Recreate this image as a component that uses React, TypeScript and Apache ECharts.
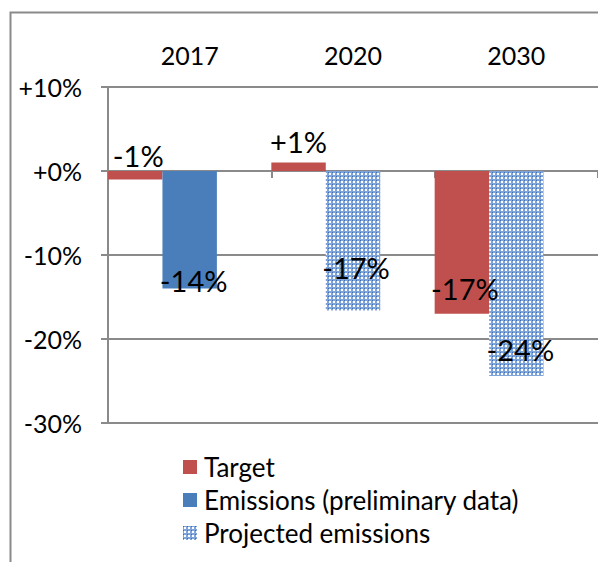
import React, { useEffect, useRef } from "react";
import * as echarts from "echarts";

const categories = ["2017", "2020", "2030"];
const targetValues = [-1, 1, -17];
const emissionsValues: (number | null)[] = [-14, null, null];
const projectedValues: (number | null)[] = [null, -16.6, -24.4];
const yTicks = { min: -30, max: 10, interval: 10 };

const RED = "#c0504d";
const BLUE = "#4a7ebb";
const GRID = "#8a8a8a";
const FONT = "Lato";

function makePattern(): HTMLCanvasElement {
  const c = document.createElement("canvas");
  c.width = 4;
  c.height = 4;
  const ctx = c.getContext("2d")!;
  ctx.fillStyle = "#7fa4da";
  ctx.fillRect(0, 0, 4, 4);
  ctx.fillStyle = "#ffffff";
  ctx.fillRect(1, 1, 2, 2);
  ctx.fillStyle = "#3e70b8";
  ctx.fillRect(0, 0, 1, 1);
  return c;
}

const fmtLabel = (v: number) => (v > 0 ? "+" : "") + Math.round(v) + "%";
const fmtAxis = (v: number) => (v >= 0 ? "+" : "") + v + "%";

export default function App() {
  const ref = useRef<HTMLDivElement>(null);
  useEffect(() => {
    if (!ref.current) return;
    const chart = echarts.init(ref.current, undefined, { renderer: "svg" });
    const pattern = { image: makePattern(), repeat: "repeat" as const };

    const labelBase = {
      show: true,
      fontFamily: FONT,
      fontSize: 29,
      lineHeight: 29,
      color: "#000",
      formatter: (p: any) => fmtLabel(p.value),
    };

    const targetLabels = [
      { position: "top", distance: 1, offset: [3, 0] },
      { position: "top", distance: 7, offset: [0, 0] },
      { position: "insideBottom", distance: 0, offset: [3, -11] },
    ];
    const emissionsLabels = [{ position: "insideBottom", distance: 0, offset: [4, 6] }, null, null];
    const projectedLabels = [
      null,
      { position: "insideBottom", distance: 0, offset: [3, -28] },
      { position: "insideBottom", distance: 0, offset: [4, -12] },
    ];

    const build = (vals: (number | null)[], labels: any[]) =>
      vals.map((v, i) =>
        v === null ? null : { value: v, label: { ...labelBase, ...(labels[i] || {}) } }
      );

    chart.setOption({
      animation: false,
      textStyle: { fontFamily: FONT },
      grid: { left: 108, top: 87, right: -3, bottom: 139 },
      legend: {
        orient: "vertical",
        left: 178,
        top: 449,
        itemWidth: 14,
        itemHeight: 14,
        itemGap: 7,
        data: ["Target", "Emissions (preliminary data)", "Projected emissions"],
        textStyle: { fontFamily: FONT, fontSize: 26, color: "#000", padding: [0, 0, 0, 2] },
        icon: "rect",
      },
      xAxis: [
        {
          type: "category",
          data: categories,
          position: "bottom",
          axisLine: { onZero: true, lineStyle: { color: GRID, width: 2 } },
          axisTick: { show: true, length: 7, lineStyle: { color: GRID, width: 2 } },
          axisLabel: { show: false },
        },
        {
          type: "category",
          data: categories,
          position: "top",
          axisLine: { show: false },
          axisTick: { show: false },
          axisLabel: { margin: 20, fontFamily: FONT, fontSize: 25, color: "#000" },
        },
      ],
      yAxis: {
        type: "value",
        min: yTicks.min,
        max: yTicks.max,
        interval: yTicks.interval,
        axisLine: { show: true, lineStyle: { color: GRID, width: 2 } },
        axisTick: { show: true, length: 7, lineStyle: { color: GRID, width: 2 } },
        splitLine: { lineStyle: { color: GRID, width: 2 } },
        axisLabel: {
          margin: 26,
          fontFamily: FONT,
          fontSize: 25,
          color: "#000",
          formatter: (v: number) => fmtAxis(v),
        },
      },
      series: [
        {
          name: "Target",
          type: "bar",
          barGap: "0%",
          barCategoryGap: "0%",
          itemStyle: { color: RED },
          data: build(targetValues, targetLabels),
        },
        {
          name: "Emissions (preliminary data)",
          type: "bar",
          stack: "e",
          itemStyle: { color: BLUE },
          data: build(emissionsValues, emissionsLabels),
        },
        {
          name: "Projected emissions",
          type: "bar",
          stack: "e",
          itemStyle: { color: pattern },
          data: build(projectedValues, projectedLabels),
        },
        {
          name: "_slot",
          type: "bar",
          data: [null, null, null],
        },
      ],
      graphic: [
        {
          type: "polyline",
          shape: { points: [[10.5, 562], [10.5, 12.5], [598, 12.5]] },
          style: { stroke: GRID, lineWidth: 2, fill: "none" },
          silent: true,
        },
      ],
    });
    return () => chart.dispose();
  }, []);
  return (
    <div
      ref={ref}
      style={{ position: "absolute", left: 0, top: 0, width: 598, height: 562, background: "#fff" }}
    />
  );
}
